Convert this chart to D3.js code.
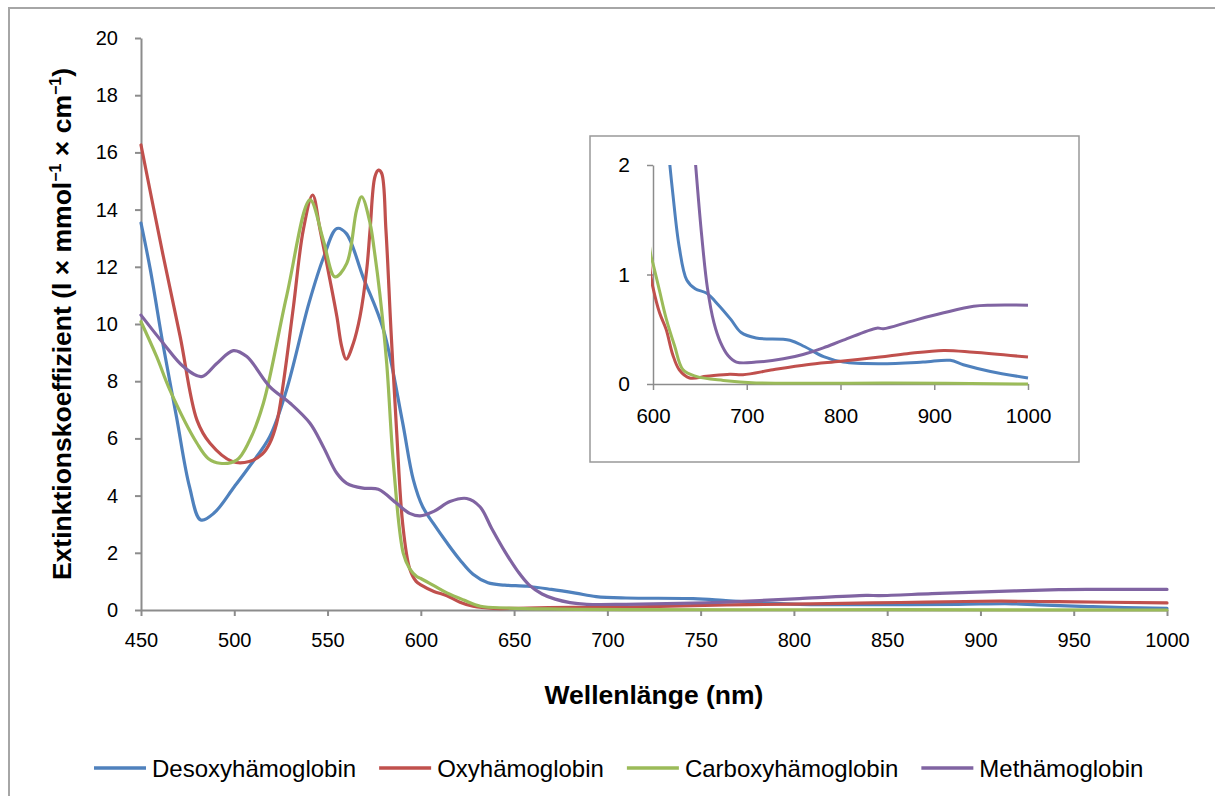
<!DOCTYPE html>
<html>
<head>
<meta charset="utf-8">
<script src="https://cdn.jsdelivr.net/npm/d3@7/dist/d3.min.js"></script>
<style>
  html, body { margin: 0; padding: 0; background: #fff; }
  svg { display: block; font-family: "Liberation Sans", Arial, sans-serif; }
</style>
</head>
<body>
<svg id="chart" width="1215" height="796"></svg>
<script>
// Extinction spectra of haemoglobin derivatives (wavelength in nm, coefficient in l·mmol⁻¹·cm⁻¹)
const seriesNames = ["Desoxyhämoglobin", "Oxyhämoglobin", "Carboxyhämoglobin", "Methämoglobin"];

const desoxyNm  = [450,455,462,469,476,482,489,500,508,519,528,540,548,555,560,569,580,590,596,601,607,614,621,628,636,645,657,670,683,694,710,746,762,782,803,842,888,917,931,960,1000];
const desoxyVal = [13.53,11.9,9.21,6.76,4.31,3.15,3.38,4.31,5.01,6.06,7.69,10.72,12.35,13.34,13.17,11.65,9.79,6.64,4.55,3.61,3.0,2.35,1.75,1.25,0.95,0.87,0.83,0.72,0.59,0.47,0.42,0.40,0.34,0.25,0.20,0.185,0.20,0.216,0.176,0.115,0.055];

const oxyNm  = [450,462,471,480,487,499,508,515,519,522.7,526.3,531.7,537,542,546,551.3,555,557.6,560,563.8,567.4,571,572.8,575.4,577.3,579,581.3,584,587,590.3,594,597.5,600,607,614,621,628,639,657,682,696,728,764,800,842,871,910,942,1000];
const oxyVal = [16.26,12.35,9.56,6.64,5.83,5.19,5.19,5.45,5.83,6.53,7.93,10.6,13.29,14.51,13.29,11.54,10.26,9.21,8.77,9.32,10.26,11.9,13.29,15.15,15.38,15.27,13.29,9.79,6.29,3.0,1.45,1.0,0.88,0.65,0.5,0.27,0.13,0.055,0.07,0.09,0.085,0.13,0.176,0.207,0.246,0.277,0.307,0.29,0.246];

const carboxyNm  = [450,458.4,465.5,480,486,492.3,501.3,508,515.6,528,540.6,547.7,554,560.3,565.6,568.3,572.8,575,578,581.7,585.3,590.6,594,597.8,600,607,614,623,632,646,675,710,853,1000];
const carboxyVal = [10.08,8.86,7.69,5.83,5.3,5.13,5.24,5.9,7.23,10.96,14.34,12.94,11.65,12.12,13.99,14.45,13.52,12.6,11.07,8.63,5.13,1.98,1.45,1.17,1.1,0.85,0.6,0.35,0.13,0.07,0.033,0.01,0.01,0.0];

const metNm  = [450,462,472.7,482.5,490.6,499.5,506.7,519,530,540.6,547.7,555,560.3,569,577.2,587,594,599.6,607,615.6,624.6,631.7,638,645,652,658,665,672,680,689,710,739,760,781.7,803,838.7,845.8,874,910,942,960,1000];
const metVal = [10.31,9.32,8.51,8.16,8.62,9.07,8.86,7.81,7.23,6.53,5.71,4.78,4.43,4.26,4.22,3.73,3.38,3.29,3.45,3.79,3.9,3.61,2.85,2.05,1.35,0.88,0.56,0.38,0.26,0.2,0.2,0.23,0.27,0.33,0.40,0.51,0.505,0.57,0.65,0.71,0.72,0.72];

const xTicksMain = [450,500,550,600,650,700,750,800,850,900,950,1000];
const yTicksMain = [0,2,4,6,8,10,12,14,16,18,20];
const xTicksInset = [600,700,800,900,1000];
const yTicksInset = [0,1,2];

const colors = ["#4F81BD", "#C0504D", "#9BBB59", "#8064A2"];
const axisColor = "#8c8c8c";

const series = [
  { name: seriesNames[0], nm: desoxyNm,  val: desoxyVal,  color: colors[0] },
  { name: seriesNames[1], nm: oxyNm,     val: oxyVal,     color: colors[1] },
  { name: seriesNames[2], nm: carboxyNm, val: carboxyVal, color: colors[2] },
  { name: seriesNames[3], nm: metNm,     val: metVal,     color: colors[3] }
].map(s => ({ ...s, points: s.nm.map((n, i) => [n, s.val[i]]) }));

const svg = d3.select("#chart");
const plain = d3.format("d");

// outer chart frame (runs off the right and bottom edges)
svg.append("rect")
  .attr("x", 9).attr("y", 8).attr("width", 1230).attr("height", 820)
  .attr("fill", "#fff").attr("stroke", "#a6a6a6").attr("stroke-width", 2);

function styleAxis(g, size) {
  g.selectAll("path.domain").attr("stroke", axisColor).attr("stroke-width", 2);
  g.selectAll(".tick line").attr("stroke", axisColor).attr("stroke-width", 2);
  g.selectAll(".tick text").attr("fill", "#000").style("font-size", (size || 20) + "px")
    .style("font-family", "'Liberation Sans', Arial, sans-serif");
}

// ---- main plot ----
const main = { left: 141, right: 1167, top: 38, bottom: 610 };
const x = d3.scaleLinear().domain([450, 1000]).range([main.left, main.right]);
const y = d3.scaleLinear().domain([0, 20]).range([main.bottom, main.top]);

const gx = svg.append("g").attr("transform", `translate(0,${main.bottom})`)
  .call(d3.axisBottom(x).tickValues(xTicksMain).tickFormat(plain).tickSize(6).tickSizeOuter(0).tickPadding(17));
styleAxis(gx);
const gy = svg.append("g").attr("transform", `translate(${main.left},0)`)
  .call(d3.axisLeft(y).tickValues(yTicksMain).tickFormat(plain).tickSize(6).tickSizeOuter(0).tickPadding(17));
styleAxis(gy);

const line = d3.line()
  .x(d => x(d[0])).y(d => y(d[1]))
  .curve(d3.curveCatmullRom.alpha(0.5));

svg.append("g").selectAll("path").data(series).join("path")
  .attr("d", d => line(d.points))
  .attr("fill", "none").attr("stroke", d => d.color)
  .attr("stroke-width", 3.2).attr("stroke-linejoin", "round").attr("stroke-linecap", "round");

// axis titles
svg.append("text")
  .attr("x", 654).attr("y", 704)
  .attr("text-anchor", "middle")
  .style("font-size", "26.5px").style("font-weight", "bold")
  .text("Wellenlänge (nm)");

const yTitle = svg.append("text")
  .attr("transform", `translate(71,${(main.top + main.bottom) / 2}) rotate(-90)`)
  .attr("text-anchor", "middle")
  .style("font-size", "26.5px").style("font-weight", "bold");
yTitle.append("tspan").text("Extinktionskoeffizient (l × mmol");
yTitle.append("tspan").attr("dy", -10).style("font-size", "16px").text("−1");
yTitle.append("tspan").attr("dy", 10).text(" × cm");
yTitle.append("tspan").attr("dy", -10).style("font-size", "16px").text("−1");
yTitle.append("tspan").attr("dy", 10).text(")");

// ---- inset: 600–1000 nm, 0–2 ----
svg.append("rect")
  .attr("x", 590).attr("y", 136).attr("width", 489).attr("height", 326)
  .attr("fill", "#fff").attr("stroke", "#999").attr("stroke-width", 1.5);

const ins = { left: 653, right: 1028, top: 165, bottom: 384 };
const xi = d3.scaleLinear().domain([600, 1000]).range([ins.left, ins.right]);
const yi = d3.scaleLinear().domain([0, 2]).range([ins.bottom, ins.top]);

const gxi = svg.append("g").attr("transform", `translate(0,${ins.bottom})`)
  .call(d3.axisBottom(xi).tickValues(xTicksInset).tickFormat(plain).tickSize(6).tickSizeOuter(0).tickPadding(18));
styleAxis(gxi, 20.5);
const gyi = svg.append("g").attr("transform", `translate(${ins.left},0)`)
  .call(d3.axisLeft(yi).tickValues(yTicksInset).tickFormat(plain).tickSize(6).tickSizeOuter(0).tickPadding(17));
styleAxis(gyi, 21);
gxi.selectAll("path.domain, .tick line").attr("stroke-width", 1.5);
gyi.selectAll("path.domain, .tick line").attr("stroke-width", 1.5);

svg.append("clipPath").attr("id", "inset-clip")
  .append("rect")
  .attr("x", ins.left - 2).attr("y", ins.top)
  .attr("width", ins.right - ins.left + 4).attr("height", ins.bottom - ins.top + 3);

const lineInset = d3.line()
  .x(d => xi(d[0])).y(d => yi(d[1]))
  .curve(d3.curveCatmullRom.alpha(0.5));

svg.append("g").attr("clip-path", "url(#inset-clip)")
  .selectAll("path").data(series).join("path")
  .attr("d", d => lineInset(d.points.filter(p => p[0] >= 590)))
  .attr("fill", "none").attr("stroke", d => d.color)
  .attr("stroke-width", 3).attr("stroke-linejoin", "round");

// ---- legend ----
const legend = svg.append("g").attr("transform", "translate(94,768)");
let lx = 0;
series.forEach(s => {
  const item = legend.append("g").attr("transform", `translate(${lx},0)`);
  item.append("line").attr("x1", 0).attr("x2", 52).attr("y1", 0).attr("y2", 0)
    .attr("stroke", s.color).attr("stroke-width", 3.5);
  const t = item.append("text").attr("x", 58).attr("y", 8.5)
    .style("font-size", "24px").text(s.name);
  lx += 58 + t.node().getComputedTextLength() + 23;
});
</script>
</body>
</html>
